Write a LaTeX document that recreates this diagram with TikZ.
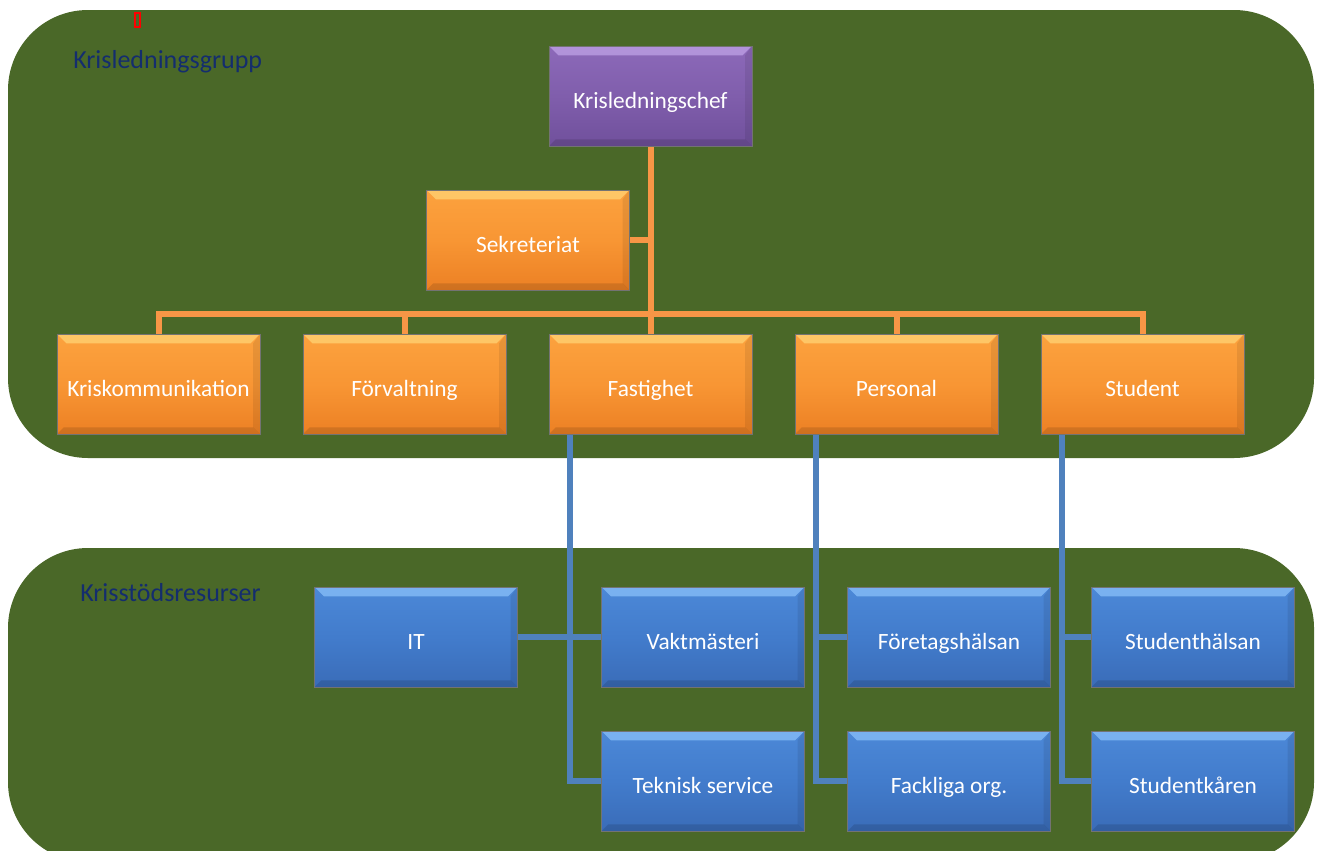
\documentclass[tikz,border=0pt]{standalone}
\usepackage{fontspec}
\setmainfont{Carlito}
\pgfdeclarelayer{panels}
\pgfdeclarelayer{lines}
\pgfsetlayers{panels,lines,main}
\begin{document}
\begin{tikzpicture}[x=0.75pt,y=-0.75pt]
\definecolor{panelgreen}{RGB}{74,104,40}
\definecolor{orangetop}{RGB}{252,162,62}
\definecolor{orangemid}{RGB}{248,150,52}
\definecolor{orangebot}{RGB}{236,128,36}
\definecolor{orangebevel}{RGB}{255,205,110}
\definecolor{purpletop}{RGB}{140,105,185}
\definecolor{purplemid}{RGB}{128,94,172}
\definecolor{purplebot}{RGB}{112,80,156}
\definecolor{purplebevel}{RGB}{185,155,225}
\definecolor{bluetop}{RGB}{76,136,215}
\definecolor{bluemid}{RGB}{66,124,204}
\definecolor{bluebot}{RGB}{58,108,184}
\definecolor{bluebevel}{RGB}{130,185,245}
\definecolor{orangeline}{RGB}{247,150,70}
\definecolor{blueline}{RGB}{79,129,189}
\definecolor{labelblue}{RGB}{20,45,110}
\tikzset{
  box/.style={minimum width=152pt, minimum height=75pt, inner sep=0pt,
    text=white, font=\fontsize{17.5}{20}\selectfont, text height=18pt, text depth=0pt,
    draw=black!55, line width=0.3pt},
  bevelfill/.style={path picture={
    \fill[#1, opacity=0.85] (path picture bounding box.north west) -- (path picture bounding box.north east)
      -- ([xshift=-7pt,yshift=-7pt]path picture bounding box.north east)
      -- ([xshift=7pt,yshift=-7pt]path picture bounding box.north west) -- cycle;
    \fill[black, opacity=0.12] (path picture bounding box.south west) -- (path picture bounding box.south east)
      -- ([xshift=-5pt,yshift=5pt]path picture bounding box.south east)
      -- ([xshift=5pt,yshift=5pt]path picture bounding box.south west) -- cycle;
    \fill[black, opacity=0.08] (path picture bounding box.north east) -- (path picture bounding box.south east)
      -- ([xshift=-5pt,yshift=5pt]path picture bounding box.south east)
      -- ([xshift=-5pt,yshift=-7pt]path picture bounding box.north east) -- cycle;
  }},
  obox/.style={box, top color=orangetop, bottom color=orangebot, middle color=orangemid, bevelfill=orangebevel},
  pbox/.style={box, top color=purpletop, bottom color=purplebot, middle color=purplemid, bevelfill=purplebevel},
  bbox/.style={box, top color=bluetop, bottom color=bluebot, middle color=bluemid, bevelfill=bluebevel},
  oline/.style={draw=orangeline, line width=4.5pt},
  bline/.style={draw=blueline, line width=4.5pt},
  grouplabel/.style={text=labelblue, font=\fontsize{19.5}{22}\selectfont, anchor=west, inner sep=0pt}
}
\useasboundingbox (0,0) rectangle (1319,850);
% panels
\begin{pgfonlayer}{panels}
\fill[white] (0,0) rectangle (1319,850);
\fill[panelgreen, rounded corners=60pt] (8,10) rectangle (1314,458);
\begin{scope}
\clip (0,0) rectangle (1319,850);
\fill[panelgreen, rounded corners=60pt] (8,548) rectangle (1314,862);
\end{scope}
\end{pgfonlayer}
% red marker
\draw[red, line width=1.5pt] (134.5,13) rectangle (140,27);
% labels
\node[grouplabel] (lbl1) at (73,62) {Krisledningsgrupp};
\node[grouplabel] (lbl2) at (80,593) {Krisstödsresurser};
% nodes
\node[pbox] (chef) at (650.5,96) {Krisledningschef};
\node[obox] (sek) at (528,240) {Sekreteriat};
\node[obox] (kk) at (158.5,384) {Kriskommunikation};
\node[obox] (forv) at (404.5,384) {Förvaltning};
\node[obox] (fast) at (650.5,384) {Fastighet};
\node[obox] (pers) at (896.5,384) {Personal};
\node[obox] (stud) at (1142.5,384) {Student};
\node[bbox] (it) at (416,637) {IT};
\node[bbox] (vakt) at (703,637) {Vaktmästeri};
\node[bbox] (fh) at (949,637) {Företagshälsan};
\node[bbox] (sh) at (1193,637) {Studenthälsan};
\node[bbox] (tek) at (703,781) {Teknisk service};
\node[bbox] (fack) at (949,781) {Fackliga org.};
\node[bbox] (sk) at (1193,781) {Studentkåren};
% connectors
\begin{pgfonlayer}{lines}
\coordinate (bus) at (650.5,314);
\path[oline] (chef.south) -- (fast.north);
\path[oline] (sek.east) -- (sek.east -| chef.south);
\path[oline] (kk.north) |- (bus) -| (stud.north);
\path[oline] (forv.north) -- (forv.north |- bus);
\path[oline] (pers.north) -- (pers.north |- bus);
\coordinate (fx) at ([xshift=15.75pt]fast.south west);
\coordinate (px) at ([xshift=15.75pt]pers.south west);
\coordinate (sx) at ([xshift=15.75pt]stud.south west);
\path[bline] (fx) |- (tek.west);
\path[bline] (it.east) -- (vakt.west);
\path[bline] (px) |- (fack.west);
\path[bline] (px |- fh.west) -- (fh.west);
\path[bline] (sx) |- (sk.west);
\path[bline] (sx |- sh.west) -- (sh.west);
\end{pgfonlayer}
\end{tikzpicture}
\end{document}
